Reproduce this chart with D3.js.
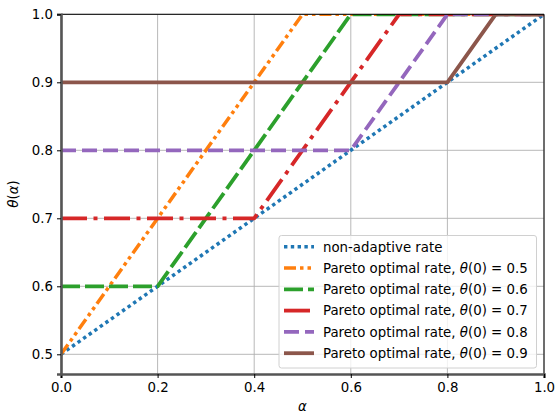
<!DOCTYPE html>
<html>
<head>
<meta charset="utf-8">
<script src="https://cdn.jsdelivr.net/npm/d3@7"></script>
<style>
  html, body { margin: 0; padding: 0; background: #fff; }
  svg text { font-family: "DejaVu Sans", sans-serif; }
</style>
</head>
<body>
<svg id="chart" width="556" height="414"></svg>
<script>
// ---- data ----
const xTicks = [0.0, 0.2, 0.4, 0.6, 0.8, 1.0];
const yTicks = [0.5, 0.6, 0.7, 0.8, 0.9, 1.0];
const seriesNames = ["non-adaptive rate", "Pareto optimal rate", "Pareto optimal rate", "Pareto optimal rate", "Pareto optimal rate", "Pareto optimal rate"];
const theta0 = [null, 0.5, 0.6, 0.7, 0.8, 0.9];
const nonAdaptiveX = [0.0, 1.0];
const nonAdaptiveY = [0.5, 1.0];
const pareto05X = [0.0, 0.5, 1.0];
const pareto05Y = [0.5, 1.0, 1.0];
const pareto06X = [0.0, 0.2, 0.6, 1.0];
const pareto06Y = [0.6, 0.6, 1.0, 1.0];
const pareto07X = [0.0, 0.4, 0.7, 1.0];
const pareto07Y = [0.7, 0.7, 1.0, 1.0];
const pareto08X = [0.0, 0.6, 0.8, 1.0];
const pareto08Y = [0.8, 0.8, 1.0, 1.0];
const pareto09X = [0.0, 0.8, 0.9, 1.0];
const pareto09Y = [0.9, 0.9, 1.0, 1.0];

// ---- styles ----
const colors = ["#1f77b4", "#ff7f0e", "#2ca02c", "#d62728", "#9467bd", "#8c564b"];
const dashes = ["3.4,3.4", "12,4,3.5,4,3.5,4", "19,5", "26,6.5,4,6.5", "15,6", null];
const widths = [3.5, 3.5, 3.8, 3.8, 3.8, 3.8];
const FS = 13.33;

const series = [
  [nonAdaptiveX, nonAdaptiveY],
  [pareto05X, pareto05Y],
  [pareto06X, pareto06Y],
  [pareto07X, pareto07Y],
  [pareto08X, pareto08Y],
  [pareto09X, pareto09Y]
].map(([xs, ys], i) => ({
  name: seriesNames[i], theta: theta0[i],
  pts: xs.map((x, j) => [x, ys[j]])
}));

const svg = d3.select("#chart");
const L = 61, R = 544, T = 14.3, B = 374;
const x = d3.scaleLinear().domain([0, 1]).range([L, R]);
const y = d3.scaleLinear().domain([0.5, 1.0]).range([354.3, 14.3]);
const yBottom = y.invert(B);
y.domain([yBottom, 1.0]).range([B, T]);

// grid
const grid = svg.append("g");
grid.selectAll(".gx").data(xTicks).enter().append("line")
  .attr("x1", d => x(d)).attr("x2", d => x(d)).attr("y1", T).attr("y2", B)
  .attr("stroke", "#b0b0b0").attr("stroke-width", 0.9);
grid.selectAll(".gy").data(yTicks).enter().append("line")
  .attr("x1", L).attr("x2", R).attr("y1", d => y(d)).attr("y2", d => y(d))
  .attr("stroke", "#b0b0b0").attr("stroke-width", 0.9);

// clip
svg.append("clipPath").attr("id", "clip").append("rect")
  .attr("x", L).attr("y", T).attr("width", R - L).attr("height", B - T);

const line = d3.line().x(d => x(d[0])).y(d => y(d[1]));
const lines = svg.append("g").attr("clip-path", "url(#clip)");
series.forEach((s, i) => {
  lines.append("path").attr("d", line(s.pts))
    .attr("fill", "none").attr("stroke", colors[i])
    .attr("stroke-width", widths[i])
    .attr("stroke-dasharray", dashes[i])
    .attr("stroke-linejoin", "round");
});

// spines
svg.append("line").attr("x1", L).attr("x2", R).attr("y1", T).attr("y2", T).attr("stroke", "#000").attr("stroke-width", 1);
svg.append("line").attr("x1", R).attr("x2", R).attr("y1", T).attr("y2", B).attr("stroke", "#000").attr("stroke-width", 1);

// axes
const xAxis = svg.append("g").attr("transform", `translate(0,${B})`)
  .call(d3.axisBottom(x).tickValues(xTicks).tickFormat(d3.format(".1f")).tickSizeOuter(0).tickSize(4).tickPadding(5));
const yAxis = svg.append("g").attr("transform", `translate(${L},0)`)
  .call(d3.axisLeft(y).tickValues(yTicks).tickFormat(d3.format(".1f")).tickSizeOuter(0).tickSize(4).tickPadding(4));
[xAxis, yAxis].forEach(a => {
  a.select(".domain").attr("stroke", "#555").attr("stroke-width", 2.6);
  a.selectAll(".tick line").attr("stroke", "#000").attr("stroke-width", 1);
  a.selectAll(".tick text").attr("font-size", FS).attr("fill", "#000")
    .attr("font-family", "DejaVu Sans, sans-serif");
});

// axis labels
svg.append("text").attr("x", (L + R) / 2).attr("y", 410.5).attr("text-anchor", "middle")
  .attr("font-size", FS).attr("font-style", "italic").text("α");
const yl = svg.append("text").attr("transform", `translate(18,194) rotate(-90)`)
  .attr("text-anchor", "middle").attr("font-size", FS);
yl.append("tspan").attr("font-style", "italic").text("θ");
yl.append("tspan").text("(");
yl.append("tspan").attr("font-style", "italic").text("α");
yl.append("tspan").text(")");

// legend
const lg = svg.append("g");
lg.append("rect").attr("x", 279).attr("y", 235.5).attr("width", 257.5).attr("height", 132.5)
  .attr("rx", 2.5).attr("fill", "#fff").attr("fill-opacity", 0.8)
  .attr("stroke", "#d0d0d0").attr("stroke-width", 1);
series.forEach((s, i) => {
  const cy = 246.7 + i * 21.3;
  lg.append("line").attr("x1", 284).attr("x2", 314).attr("y1", cy).attr("y2", cy)
    .attr("stroke", colors[i]).attr("stroke-width", widths[i])
    .attr("stroke-dasharray", dashes[i]);
  const t = lg.append("text").attr("x", 323).attr("y", cy + 4.8).attr("font-size", FS).attr("fill", "#000");
  if (s.theta === null) {
    t.text(s.name);
  } else {
    t.append("tspan").text(s.name + ", ");
    t.append("tspan").attr("font-style", "italic").text("θ");
    t.append("tspan").text("(0) = " + d3.format(".1f")(s.theta));
  }
});
</script>
</body>
</html>
